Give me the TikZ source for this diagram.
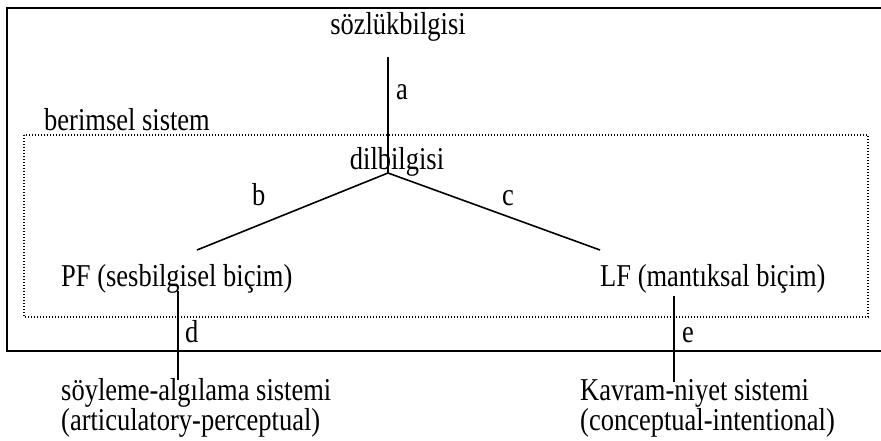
\documentclass[tikz,border=0pt]{standalone}
\usepackage{fontspec}
\setmainfont{Liberation Serif}
\newcommand{\tallt}[1]{\scalebox{1}[1.2]{#1}}
\begin{document}
\begin{tikzpicture}[x=1pt,y=-1pt,
  txt/.style={inner sep=0pt, font=\fontsize{26.5}{30}\selectfont},
  lft/.style={txt, anchor=base west},
  ctr/.style={txt, anchor=base},
  conn/.style={line width=1.6pt},
  outerbox/.style={line width=2pt},
  dotbox/.style={line width=1.5pt, dash pattern=on 1.2pt off 1.8pt}]
\useasboundingbox (0,0) rectangle (881,441);
\clip (0,0) rectangle (881,441);
% frames
\draw[outerbox] (900,8) -- (7,8) -- (7,351) -- (900,351);
\draw[dotbox] (24,135) rectangle (868,317);
% texts
\node[ctr] (lex) at (398,35) {\tallt{sözlükbilgisi}};
\node[lft] (fs) at (44,131) {\tallt{berimsel sistem}};
\node[ctr] (gram) at (397,170) {\tallt{dilbilgisi}};
\node[lft] (pf) at (61,286) {\tallt{PF (sesbilgisel biçim)}};
\node[lft] (lf) at (600,286) {\tallt{LF (mantıksal biçim)}};
\node[lft] (ap1) at (61,400) {\tallt{söyleme-algılama sistemi}};
\node[lft] (ap2) at (61,430) {\tallt{(articulatory-perceptual)}};
\node[lft] (ci1) at (580,400) {\tallt{Kavram-niyet sistemi}};
\node[lft] (ci2) at (580,430) {\tallt{(conceptual-intentional)}};
% connector end points
\coordinate (aTop) at (388,57);
\coordinate (vtx) at (388,173);
\coordinate (bEnd) at (197,250);
\coordinate (cEnd) at (600,250);
\coordinate (dTop) at (178,291);
\coordinate (dBot) at (178,380);
\coordinate (eTop) at (674,296);
\coordinate (eBot) at (674,382);
% connectors
\draw[conn] (aTop) -- (vtx);
\draw[conn] (vtx) -- (bEnd);
\draw[conn] (vtx) -- (cEnd);
\draw[conn] (dTop) -- (dBot);
\draw[conn] (eTop) -- (eBot);
% connector labels
\node[lft] (la) at (396,100) {\tallt{a}};
\node[lft] (lb) at (252,205) {\tallt{b}};
\node[lft] (lc) at (502,205) {\tallt{c}};
\node[lft] (ld) at (185,342) {\tallt{d}};
\node[lft] (le) at (682,342) {\tallt{e}};
\end{tikzpicture}
\end{document}
